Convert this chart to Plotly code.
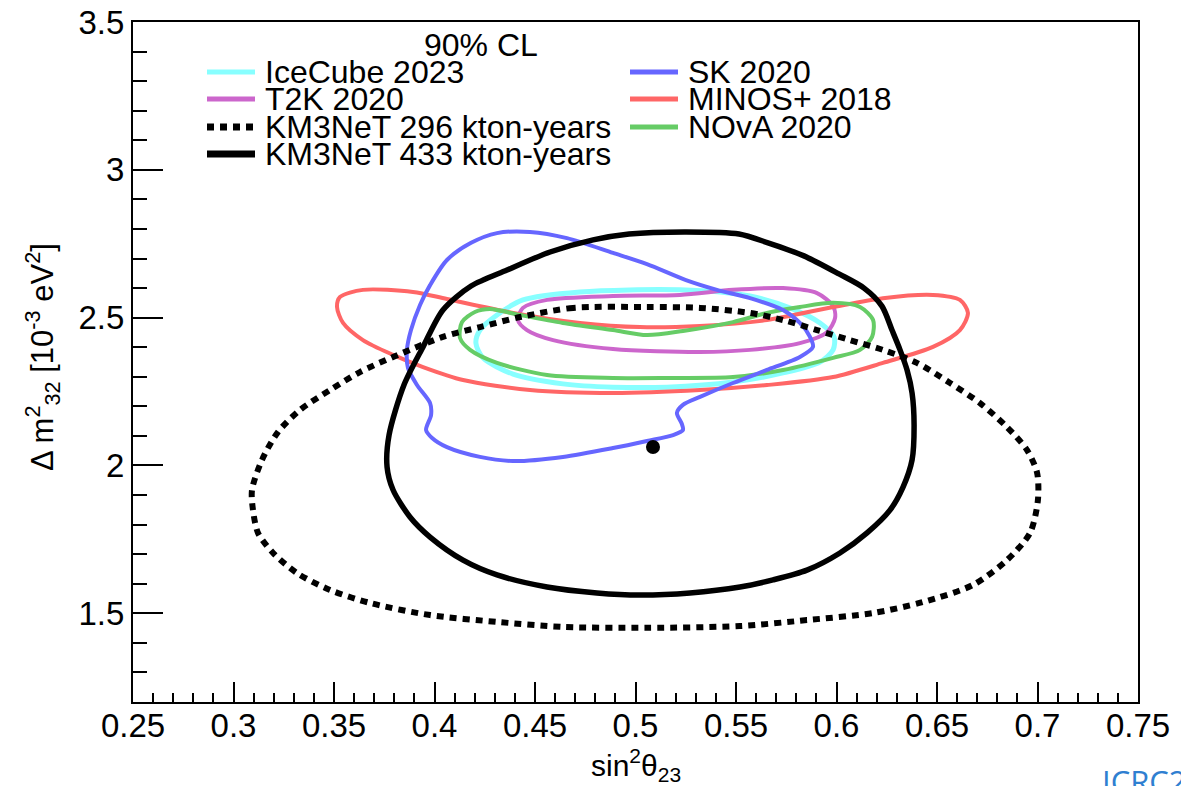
import plotly.graph_objects as go

# 90% CL contours in the (sin^2 theta23, Delta m^2_32 [1e-3 eV^2]) plane
icecube_x = [0.4206, 0.4226, 0.4311, 0.4440, 0.4724, 0.5221, 0.5570, 0.5784, 0.5918, 0.5988,
             0.5983, 0.5918, 0.5734, 0.5485, 0.5157, 0.4888, 0.4639, 0.4391, 0.4241]
icecube_y = [2.414, 2.458, 2.509, 2.560, 2.587, 2.594, 2.573, 2.529, 2.482, 2.435,
             2.391, 2.350, 2.313, 2.282, 2.265, 2.265, 2.276, 2.309, 2.364]

t2k_x = [0.4415, 0.4440, 0.4560, 0.4888, 0.5221, 0.5485, 0.5734, 0.5903, 0.5983, 0.5993,
         0.5953, 0.5818, 0.5570, 0.5321, 0.4888, 0.4590, 0.4460]
t2k_y = [2.492, 2.533, 2.560, 2.573, 2.577, 2.594, 2.600, 2.583, 2.539, 2.499,
         2.451, 2.414, 2.391, 2.384, 2.394, 2.424, 2.458]

minos_x = [0.3515, 0.3530, 0.3644, 0.3893, 0.4062, 0.4391, 0.4724, 0.5022, 0.5321, 0.5654,
           0.5983, 0.6231, 0.6480, 0.6614, 0.6654, 0.6614, 0.6480, 0.6231, 0.5983, 0.5654,
           0.5321, 0.4888, 0.4475, 0.4142, 0.3943, 0.3794, 0.3644, 0.3545]
minos_y = [2.536, 2.570, 2.594, 2.587, 2.563, 2.516, 2.482, 2.468, 2.472, 2.492,
           2.536, 2.566, 2.577, 2.560, 2.516, 2.458, 2.401, 2.347, 2.299, 2.272,
           2.255, 2.245, 2.255, 2.289, 2.333, 2.374, 2.424, 2.482]

nova_x = [0.4127, 0.4137, 0.4201, 0.4276, 0.4425, 0.4639, 0.4888, 0.5057, 0.5236, 0.5485,
          0.5654, 0.5818, 0.5983, 0.6117, 0.6182, 0.6177, 0.6117, 0.5983, 0.5734, 0.5485,
          0.5157, 0.4888, 0.4560, 0.4311, 0.4177]
nova_y = [2.431, 2.485, 2.519, 2.529, 2.509, 2.482, 2.458, 2.441, 2.455, 2.485,
          2.516, 2.536, 2.550, 2.536, 2.492, 2.435, 2.391, 2.364, 2.323, 2.299,
          2.296, 2.296, 2.306, 2.347, 2.391]

sk_x = [0.4311, 0.4475, 0.4659, 0.4888, 0.5057, 0.5251, 0.5405, 0.5570, 0.5734, 0.5818,
        0.5868, 0.5883, 0.5818, 0.5654, 0.5485, 0.5321, 0.5236, 0.5206, 0.5231, 0.5236,
        0.5187, 0.5057, 0.4888, 0.4639, 0.4391, 0.4226, 0.4062, 0.3988, 0.3958, 0.3983,
        0.3978, 0.3913, 0.3868, 0.3863, 0.3883, 0.3928, 0.3978, 0.4062, 0.4182]
sk_y = [2.786, 2.790, 2.769, 2.719, 2.681, 2.627, 2.594, 2.566, 2.526, 2.482,
        2.435, 2.401, 2.367, 2.323, 2.279, 2.232, 2.205, 2.178, 2.140, 2.120,
        2.103, 2.083, 2.059, 2.029, 2.015, 2.029, 2.062, 2.093, 2.120, 2.171,
        2.211, 2.272, 2.330, 2.391, 2.458, 2.543, 2.610, 2.695, 2.753]

km3_296_x = [0.5057, 0.4689, 0.4425, 0.4226, 0.4042, 0.3794, 0.3629, 0.3480, 0.3331, 0.3221,
             0.3142, 0.3092, 0.3097, 0.3122, 0.3197, 0.3316, 0.3480, 0.3679, 0.3978, 0.4311,
             0.4639, 0.5057, 0.5520, 0.5853, 0.6182, 0.6430, 0.6679, 0.6848, 0.6963, 0.7002,
             0.6998, 0.6948, 0.6848, 0.6714, 0.6565, 0.6400, 0.6231, 0.6067, 0.5903, 0.5734,
             0.5570, 0.5321]
km3_296_y = [2.536, 2.533, 2.502, 2.468, 2.435, 2.367, 2.316, 2.255, 2.188, 2.113,
             2.019, 1.917, 1.849, 1.772, 1.704, 1.636, 1.579, 1.535, 1.494, 1.471,
             1.454, 1.451, 1.457, 1.477, 1.501, 1.538, 1.596, 1.680, 1.772, 1.883,
             1.975, 2.052, 2.130, 2.211, 2.279, 2.347, 2.391, 2.424, 2.458, 2.492,
             2.516, 2.533]

km3_433_x = [0.5022, 0.4808, 0.4560, 0.4311, 0.4142, 0.3978, 0.3878, 0.3794, 0.3764, 0.3774,
             0.3848, 0.3943, 0.4042, 0.4182, 0.4361, 0.4575, 0.4789, 0.4968, 0.5251, 0.5515,
             0.5659, 0.5838, 0.6012, 0.6137, 0.6226, 0.6276, 0.6316, 0.6351, 0.6376, 0.6386,
             0.6376, 0.6331, 0.6266, 0.6152, 0.6017, 0.5853, 0.5684, 0.5520, 0.5271]
km3_433_y = [1.562, 1.569, 1.589, 1.630, 1.680, 1.758, 1.826, 1.917, 1.995, 2.103,
             2.272, 2.401, 2.526, 2.607, 2.661, 2.722, 2.763, 2.783, 2.790, 2.783,
             2.753, 2.709, 2.648, 2.600, 2.539, 2.458, 2.391, 2.323, 2.245, 2.137,
             2.019, 1.927, 1.849, 1.772, 1.704, 1.646, 1.613, 1.589, 1.569]

# KM3NeT 433 kton-years best fit
best_fit_x = [0.5087]
best_fit_y = [2.0625]

x_ticks = [0.25, 0.3, 0.35, 0.4, 0.45, 0.5, 0.55, 0.6, 0.65, 0.7, 0.75]
x_tick_text = ["0.25", "0.3", "0.35", "0.4", "0.45", "0.5", "0.55", "0.6", "0.65", "0.7", "0.75"]
y_ticks = [1.5, 2.0, 2.5, 3.0, 3.5]
y_tick_text = ["1.5", "2", "2.5", "3", "3.5"]

FONT = "Liberation Sans, Arial, Helvetica, sans-serif"

curves = [
    ("IceCube 2023", icecube_x, icecube_y, "#88FFFF", 5, None),
    ("T2K 2020", t2k_x, t2k_y, "#CC66CC", 4, None),
    ("MINOS+ 2018", minos_x, minos_y, "#FF6666", 4, None),
    ("NOvA 2020", nova_x, nova_y, "#66CC66", 4, None),
    ("SK 2020", sk_x, sk_y, "#6666FF", 4, None),
    ("KM3NeT 296 kton-years", km3_296_x, km3_296_y, "black", 6, "7px,6px"),
    ("KM3NeT 433 kton-years", km3_433_x, km3_433_y, "black", 5.5, None),
]

fig = go.Figure()
for name, xs, ys, color, width, dash in curves:
    line = dict(color=color, width=width, shape="spline", smoothing=0.8)
    if dash:
        line["dash"] = dash
    fig.add_trace(go.Scatter(
        x=xs + xs[:1], y=ys + ys[:1], mode="lines", name=name,
        line=line, showlegend=False, hoverinfo="skip",
    ))

fig.add_trace(go.Scatter(
    x=best_fit_x, y=best_fit_y, mode="markers",
    marker=dict(color="black", size=14), showlegend=False,
))

# Plot frame geometry (pixels)
L, R, T, B = 133, 1138, 22, 702
W, H = 1181, 786


def px(xp):
    return (xp - L) / (R - L)


def py(yp):
    return (B - yp) / (B - T)


shapes = []
annotations = []

# Hand-placed two-column key
annotations.append(dict(text="90% CL", x=px(481), y=py(45), xref="paper", yref="paper",
                        showarrow=False, xanchor="center", yanchor="middle",
                        font=dict(family=FONT, size=32, color="black")))

key_entries = [
    ("IceCube 2023", "#88FFFF", 5, None, 207, 72),
    ("T2K 2020", "#CC66CC", 5, None, 207, 99),
    ("KM3NeT 296 kton-years", "black", 7, "7px,6px", 207, 127),
    ("KM3NeT 433 kton-years", "black", 7, None, 207, 154),
    ("SK 2020", "#6666FF", 5, None, 630, 72),
    ("MINOS+ 2018", "#FF6666", 5, None, 630, 99),
    ("NOvA 2020", "#66CC66", 5, None, 630, 127),
]
for label, color, width, dash, x0, yc in key_entries:
    ln = dict(color=color, width=width)
    if dash:
        ln["dash"] = dash
    shapes.append(dict(type="line", xref="paper", yref="paper",
                       x0=px(x0), x1=px(x0 + 48), y0=py(yc), y1=py(yc), line=ln))
    annotations.append(dict(text=label, x=px(x0 + 56), y=py(yc), xref="paper", yref="paper",
                            showarrow=False, xanchor="left", yanchor="middle",
                            font=dict(family=FONT, size=32, color="black")))

# Axis titles
annotations.append(dict(text="sin<sup>2</sup>θ<sub>23</sub>", x=px(636), y=py(765),
                        xref="paper", yref="paper", showarrow=False,
                        xanchor="center", yanchor="middle",
                        font=dict(family=FONT, size=30, color="black")))
annotations.append(dict(text="Δ m<sup>2</sup><sub>32</sub> [10<sup>-3</sup> eV<sup>2</sup>]",
                        x=px(42), y=py(357), xref="paper", yref="paper", showarrow=False,
                        textangle=-90, xanchor="center", yanchor="middle",
                        font=dict(family=FONT, size=31, color="black")))
annotations.append(dict(text="ICRC2023", x=px(1100), y=py(758), xref="paper", yref="paper",
                        showarrow=False, xanchor="left", yanchor="top",
                        font=dict(family="Open Sans, sans-serif", size=31, color="#2f7fd1")))

fig.update_layout(
    width=W, height=H,
    margin=dict(l=L, r=W - R, t=T, b=H - B, autoexpand=False),
    paper_bgcolor="white", plot_bgcolor="white",
    shapes=shapes, annotations=annotations,
    showlegend=False,
    xaxis=dict(range=[0.25, 0.75], tickmode="array", tickvals=x_ticks, ticktext=x_tick_text,
               ticks="inside", ticklen=20, tickwidth=1.5, tickcolor="black",
               minor=dict(dtick=0.01, ticks="inside", ticklen=9, tickwidth=1.5, tickcolor="black"),
               showgrid=False, zeroline=False, showline=True, linecolor="black", linewidth=2,
               mirror=True, automargin=False, ticklabelstandoff=-7,
               tickfont=dict(family=FONT, size=33, color="black")),
    yaxis=dict(range=[1.2, 3.5], tickmode="array", tickvals=y_ticks, ticktext=y_tick_text,
               ticks="inside", ticklen=30, tickwidth=1.5, tickcolor="black",
               minor=dict(dtick=0.1, ticks="inside", ticklen=14, tickwidth=1.5, tickcolor="black"),
               showgrid=False, zeroline=False, showline=True, linecolor="black", linewidth=2,
               mirror=True, automargin=False,
               tickfont=dict(family=FONT, size=33, color="black")),
)

fig.write_html("out.html")
